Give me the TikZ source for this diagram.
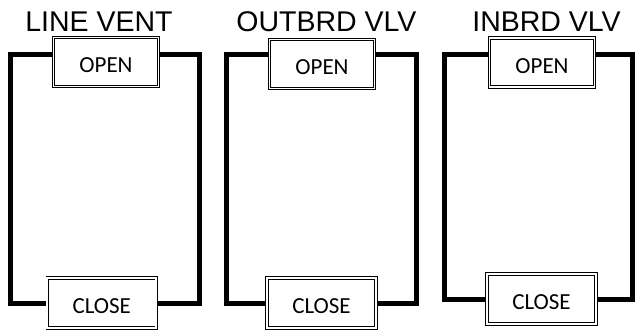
\documentclass[tikz,border=0pt]{standalone}
\usepackage{fontspec}
\setmainfont{Liberation Sans}
\newfontfamily\boxfont{Carlito}

\begin{document}
\begin{tikzpicture}[x=1pt, y=-1pt,
  wire/.style={line width=5pt},
  swbox/.style={draw, line width=0.8pt, double, double distance=1.6pt,
    outer sep=1.6pt, inner sep=0pt, text height=21pt, text depth=0pt,
    font=\boxfont\fontsize{23}{23}\selectfont},
  openbox/.style={swbox, minimum width=105pt, minimum height=49pt},
  closebox/.style={swbox, minimum width=109pt, minimum height=50pt},
  title/.style={anchor=base, font=\fontsize{28.5}{30}\selectfont}]

  \useasboundingbox (0,0) rectangle (641,333);

  % --- Titles ---
  \node[title] (t1) at (99,31)    {LINE VENT};
  \node[title] (t2) at (326.5,31) {OUTBRD VLV};
  \node[title] (t3) at (546.5,31) {INBRD VLV};

  % --- OPEN switches (top) ---
  \node[openbox] (o1) at (106,62) {OPEN};
  \node[openbox] (o2) at (322,64) {OPEN};
  \node[openbox] (o3) at (542,62.5) {OPEN};

  % --- CLOSE switches (bottom) ---
  \node[closebox] (c1) at (101.75,303) {CLOSE};
  \node[closebox] (c2) at (321.5,303) {CLOSE};
  \node[closebox] (c3) at (541.5,299) {CLOSE};

  % --- Side rails of each loop ---
  \coordinate (l1) at (10.5,0);  \coordinate (r1) at (199.5,0);
  \coordinate (l2) at (226.5,0); \coordinate (r2) at (416.5,0);
  \coordinate (l3) at (444,0);   \coordinate (r3) at (632,0);

  % --- Wires: OPEN to CLOSE, left and right ---
  \draw[wire] (o1.172) -| (c1.west -| l1) -- (c1.west);
  \draw[wire] (o1.8) -| (c1.east -| r1) -- (c1.east);
  \draw[wire] (o2.170) -| (c2.west -| l2) -- (c2.west);
  \draw[wire] (o2.10) -| (c2.east -| r2) -- (c2.east);
  \draw[wire] (o3.172) -| (c3.west -| l3) -- (c3.west);
  \draw[wire] (o3.8) -| (c3.east -| r3) -- (c3.east);

\end{tikzpicture}
\end{document}
